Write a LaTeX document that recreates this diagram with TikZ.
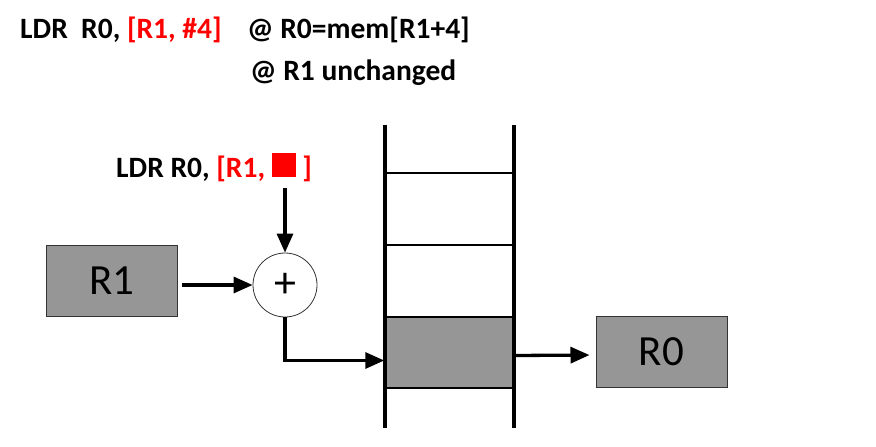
\documentclass[tikz,border=0pt]{standalone}
\usepackage{fontspec}
\setmainfont{Carlito}
\usepackage{xcolor}
\usetikzlibrary{arrows.meta,positioning}
\definecolor{regfill}{HTML}{969696}

\begin{document}
\begin{tikzpicture}[
			x=1pt,y=-1pt,
			reg/.style={draw=black!80,line width=1pt,fill=regfill,minimum width=131pt,minimum height=71pt,inner sep=0pt,font=\fontsize{43}{46}\selectfont},
			code/.style={inner sep=0pt,anchor=base west,font=\fontsize{29.5}{34}\selectfont\bfseries},
			adder/.style={draw=black!80,circle,line width=0.8pt,minimum size=64pt,inner sep=0pt,font=\fontsize{44}{48}\selectfont},
			cellbox/.style={draw,line width=1.5pt,fill=regfill,minimum width=129pt,minimum height=71pt,inner sep=0pt},
			arrow/.style={-{Triangle[length=19pt,width=16pt]},line width=3.3pt}
			]
			\useasboundingbox (0,0) rectangle (876,447);
			\node[code] (instr) at (20,38) {LDR\ \ R0, \textcolor{red}{[R1, \#4]}};
			\node[code] (note1) at (247,38) {@ R0=mem[R1+4]};
			\node[code] (note2) at (250,80) {@ R1 unchanged};
			% memory column
			\node[cellbox] (cell) at (449.5,352.5) {};
			\foreach \y in {173,245}
				\draw[line width=1.5pt] (385,\y) -- (514,\y);
			\draw[line width=3.6pt] (385,125) -- (385,428);
			\draw[line width=3.6pt] (514,125) -- (514,428);
			% registers and adder
			\node[reg] (r1) at (112,281) {R1};
			\node[reg] (r0) at (661.5,352) {R0};
			\node[adder] (plus) at (285,285) {+};
			\node[code] (offset) at (116,177) {LDR R0, \textcolor{red}{[R1, {\color{red}\rule{24pt}{24pt}} ]}};
			\draw[arrow,shorten <=4pt] (r1.east |- plus) -- (plus.west);
			\draw[arrow,shorten <=6pt] (plus |- offset.south) -- (plus.north);
			\draw[arrow] (plus.south) |- ([yshift=-8pt]cell.west);
			\draw[arrow,shorten >=6pt] ([yshift=-3pt]cell.east) -- ([yshift=-3pt]r0.west);
		\end{tikzpicture}
\end{document}
